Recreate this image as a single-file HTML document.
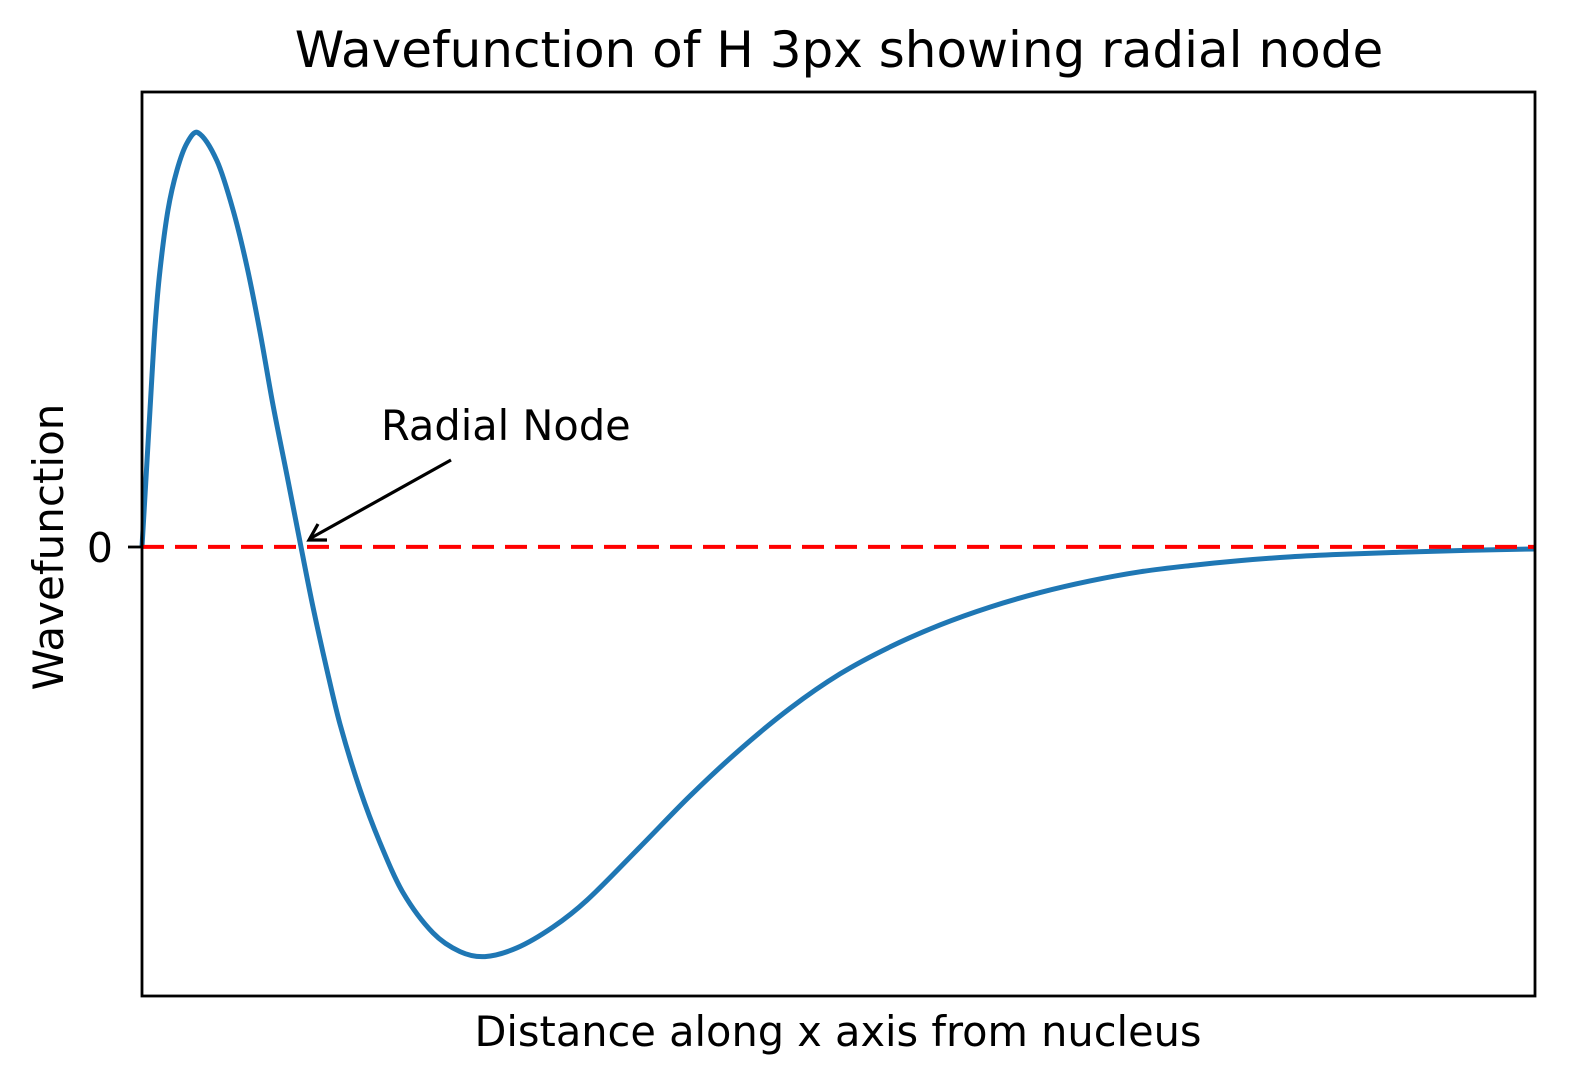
<!DOCTYPE html>
<html><head><meta charset="utf-8"><style>
html,body{margin:0;padding:0;background:#fff;}
svg text{font-family:"DejaVu Sans","Liberation Sans",sans-serif;fill:#000;}
</style></head><body>
<svg id="chart" width="1570" height="1085" viewBox="0 0 1570 1085" xmlns="http://www.w3.org/2000/svg">
<rect width="1570" height="1085" fill="#fff"/>
<text x="839" y="67" font-size="50" text-anchor="middle">Wavefunction of H 3px showing radial node</text>
<g id="plot"></g>
<rect x="142" y="92" width="1393" height="904" fill="none" stroke="#000" stroke-width="2.8"/>
<line x1="128" y1="547" x2="142" y2="547" stroke="#000" stroke-width="2.8"/>
<text x="113" y="562" font-size="41" text-anchor="end">0</text>
<text x="838" y="1046" font-size="41.5" text-anchor="middle">Distance along x axis from nucleus</text>
<text transform="translate(63,547) rotate(-90)" font-size="42" text-anchor="middle">Wavefunction</text>
<text x="381" y="440" font-size="41.5">Radial Node</text>
<g>
<line x1="451" y1="460" x2="311" y2="538" stroke="#000" stroke-width="3.2"/>
<polyline points="318,524 309,540 327,540" fill="none" stroke="#000" stroke-width="3.2"/>
</g>
</svg>
<script>
const xs=[0,0.172,0.280,0.388,0.560,0.754,0.969,1.206,1.615,1.960,2.261,2.541,2.821,3.123,3.424,3.683,3.984,4.264,4.695,5.126,5.621,6.267,6.849,7.387,8.076,8.851,9.584,10.725,11.802,12.879,13.955,15.032,16.109,17.186,18.262,19.339,20.416,21.493,22.570,23.646,24.723,25.800,27.092,28.600,30];
const ys=[0,0.330,0.530,0.667,0.812,0.908,0.973,0.998,0.930,0.812,0.675,0.518,0.342,0.172,0,-0.145,-0.297,-0.427,-0.585,-0.713,-0.833,-0.930,-0.975,-0.987,-0.966,-0.916,-0.851,-0.723,-0.600,-0.488,-0.389,-0.306,-0.241,-0.188,-0.145,-0.110,-0.082,-0.060,-0.045,-0.033,-0.024,-0.018,-0.013,-0.008,-0.005];
const zeroLine=[0];
const X0=142,X1=1535,Y0=996,Y1=92,xmin=0,xmax=30,ymin=-1.082,ymax=1.096;
const sx=v=>X0+(v-xmin)/(xmax-xmin)*(X1-X0);
const sy=v=>Y0-(v-ymin)/(ymax-ymin)*(Y0-Y1);
const NS="http://www.w3.org/2000/svg";
const g=document.getElementById('plot');
const P=xs.map((x,i)=>[sx(x),sy(ys[i])]);
const n=P.length;
const m=new Array(n);
m[0]=(P[1][1]-P[0][1])/(P[1][0]-P[0][0]);
m[n-1]=(P[n-1][1]-P[n-2][1])/(P[n-1][0]-P[n-2][0]);
for(let i=1;i<n-1;i++){m[i]=(P[i+1][1]-P[i-1][1])/(P[i+1][0]-P[i-1][0]);}
let d="M"+P[0][0]+","+P[0][1];
for(let i=0;i<n-1;i++){
  const dx=P[i+1][0]-P[i][0];
  d+=` C${P[i][0]+dx/3},${P[i][1]+m[i]*dx/3} ${P[i+1][0]-dx/3},${P[i+1][1]-m[i+1]*dx/3} ${P[i+1][0]},${P[i+1][1]}`;
}
zeroLine.forEach(v=>{
  const l=document.createElementNS(NS,'line');
  l.setAttribute('x1',X0);l.setAttribute('x2',X1);l.setAttribute('y1',sy(v));l.setAttribute('y2',sy(v));
  l.setAttribute('stroke','#ff0000');l.setAttribute('stroke-width','4');l.setAttribute('stroke-dasharray','22 11');
  
  
  g.appendChild(l);
});
const path=document.createElementNS(NS,'path');
path.setAttribute('d',d);path.setAttribute('fill','none');path.setAttribute('stroke','#1f77b4');path.setAttribute('stroke-width','5');path.setAttribute('stroke-linejoin','round');


g.insertBefore(path,g.firstChild);
</script>
</body></html>
